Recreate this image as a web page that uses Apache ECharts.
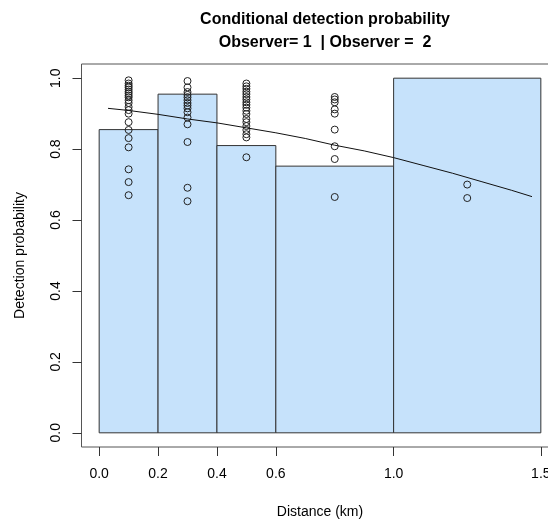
<!DOCTYPE html>
<html>
<head>
<meta charset="utf-8">
<script src="https://cdn.jsdelivr.net/npm/echarts@6/dist/echarts.min.js"></script>
<style>
  html, body { margin: 0; padding: 0; background: #fff; }
  #main { width: 548px; height: 520px; }
</style>
</head>
<body>
<div id="main"></div>
<script>
// histogram breaks and bar heights
var breaks = [0, 0.2, 0.4, 0.6, 1.0, 1.5];
var heights = [0.855, 0.955, 0.81, 0.752, 1.0];

// observed points per distance bin midpoint
var ptX = [0.1, 0.3, 0.5, 0.8, 1.25];
var ptY = [
  [0.994, 0.985, 0.979, 0.974, 0.968, 0.962, 0.957, 0.951, 0.946, 0.938, 0.930, 0.919, 0.910, 0.900, 0.876, 0.854, 0.831, 0.805, 0.743, 0.707, 0.670],
  [0.992, 0.974, 0.961, 0.953, 0.946, 0.938, 0.930, 0.923, 0.915, 0.904, 0.889, 0.870, 0.820, 0.691, 0.653],
  [0.985, 0.977, 0.970, 0.962, 0.955, 0.947, 0.940, 0.932, 0.925, 0.917, 0.908, 0.899, 0.885, 0.876, 0.865, 0.854, 0.842, 0.833, 0.777],
  [0.947, 0.940, 0.932, 0.912, 0.900, 0.855, 0.808, 0.772, 0.665],
  [0.700, 0.662]
];

// fitted curve, read along its length
var lineX = [0.03, 0.1, 0.2, 0.3, 0.4, 0.5, 0.6, 0.7, 0.8, 0.9, 1.0, 1.1, 1.2, 1.3, 1.4, 1.47];
var lineY = [0.915, 0.909, 0.898, 0.885, 0.874, 0.860, 0.846, 0.830, 0.811, 0.795, 0.776, 0.754, 0.732, 0.708, 0.684, 0.666];

var xTicks = [0, 0.2, 0.4, 0.6, 1.0, 1.5];
var yTicks = [0, 0.2, 0.4, 0.6, 0.8, 1.0];

var barData = [];
for (var i = 0; i < heights.length; i++) {
  barData.push([breaks[i], breaks[i + 1], heights[i]]);
}
var pts = [];
for (var j = 0; j < ptX.length; j++) {
  for (var k = 0; k < ptY[j].length; k++) pts.push([ptX[j], ptY[j][k]]);
}
var curve = [];
for (var m = 0; m < lineX.length; m++) curve.push([lineX[m], lineY[m]]);

var font = 'Liberation Sans, Arial, sans-serif';
var chart = echarts.init(document.getElementById('main'), null, { renderer: 'canvas' });
chart.setOption({
  animation: false,
  title: {
    text: 'Conditional detection probability\nObserver= 1  | Observer =  2',
    left: 320, top: 3, textAlign: 'center',
    textStyle: { fontFamily: font, fontSize: 16, fontWeight: 'bold', color: '#000', lineHeight: 23 }
  },
  grid: { left: 81.5, top: 64, width: 477, height: 383, outerBoundsMode: 'none', containLabel: false,
    show: true, borderColor: '#555', borderWidth: 1, backgroundColor: 'transparent' },
  xAxis: {
    type: 'value', min: -0.06, max: 1.56,
    name: 'Distance (km)', nameLocation: 'middle', nameGap: 58, nameMoveOverlap: false,
    nameTextStyle: { fontFamily: font, fontSize: 14, color: '#000' },
    axisLine: { show: false, onZero: false },
    axisTick: { show: true, length: 9, customValues: xTicks, lineStyle: { color: '#333' } },
    axisLabel: { customValues: xTicks, fontFamily: font, fontSize: 14, color: '#000', margin: 20,
      formatter: function (v) { return v.toFixed(1); } },
    splitLine: { show: false }
  },
  yAxis: {
    type: 'value', min: -0.04, max: 1.04,
    name: 'Detection probability', nameLocation: 'middle', nameGap: 54, nameMoveOverlap: false,
    nameTextStyle: { fontFamily: font, fontSize: 14, color: '#000' },
    axisLine: { show: false, onZero: false },
    axisTick: { show: true, length: 9, customValues: yTicks, lineStyle: { color: '#333' } },
    axisLabel: { customValues: yTicks, rotate: 90, fontFamily: font, fontSize: 14, color: '#000', margin: 18,
      formatter: function (v) { return v.toFixed(1); } },
    splitLine: { show: false }
  },
  series: [
    {
      type: 'custom',
      data: barData,
      encode: { x: [0, 1], y: 2 },
      renderItem: function (params, api) {
        var p0 = api.coord([api.value(0), 0]);
        var p1 = api.coord([api.value(1), api.value(2)]);
        return {
          type: 'rect',
          shape: { x: p0[0], y: p1[1], width: p1[0] - p0[0], height: p0[1] - p1[1] },
          style: { fill: '#c6e2fb', stroke: '#333', lineWidth: 1 }
        };
      },
      z: 1
    },
    {
      type: 'scatter',
      data: pts,
      symbol: 'circle',
      symbolSize: 7,
      itemStyle: { color: 'rgba(0,0,0,0)', borderColor: '#222', borderWidth: 1, opacity: 1 },
      z: 3
    },
    {
      type: 'line',
      data: curve,
      showSymbol: false,
      lineStyle: { color: '#111', width: 1 },
      z: 4
    }
  ]
});
</script>
</body>
</html>
